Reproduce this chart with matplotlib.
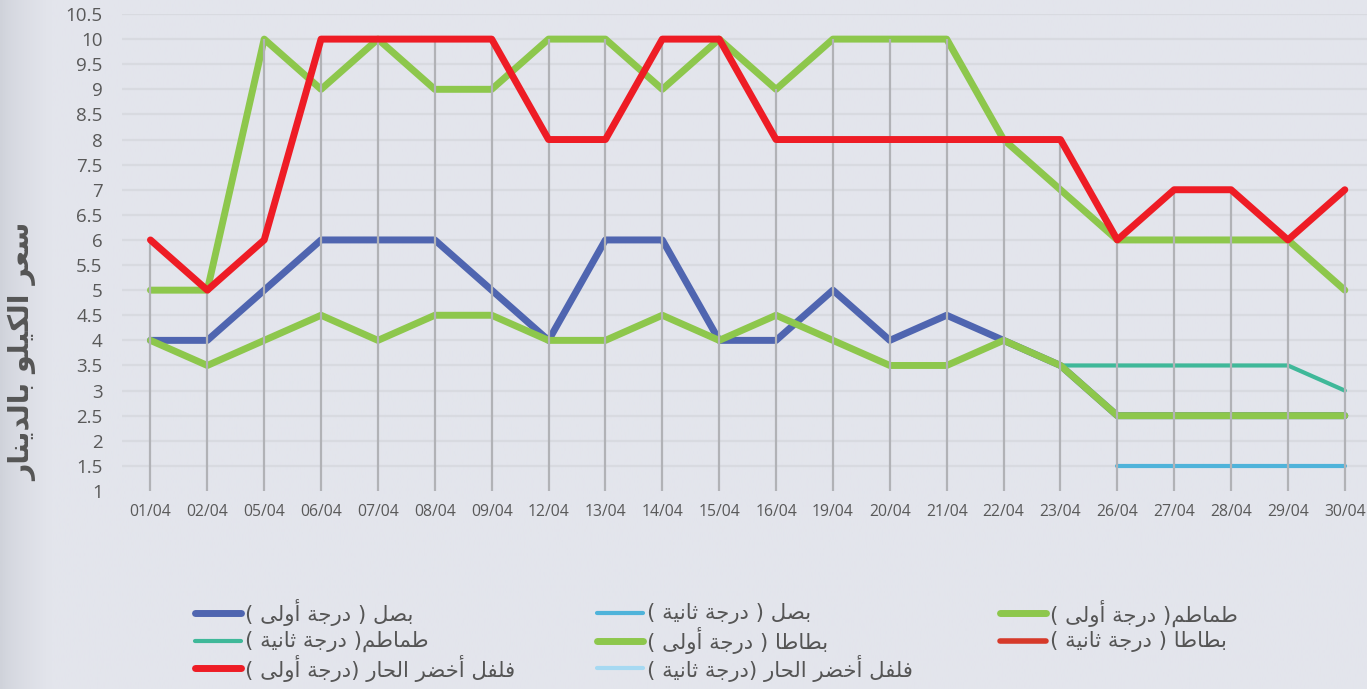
import numpy as np
import matplotlib
matplotlib.use("Agg")
import matplotlib.pyplot as plt
from matplotlib.lines import Line2D
from matplotlib.colors import LinearSegmentedColormap

nan = np.nan
dates = ['01/04', '02/04', '05/04', '06/04', '07/04', '08/04', '09/04', '12/04', '13/04', '14/04',
         '15/04', '16/04', '19/04', '20/04', '21/04', '22/04', '23/04', '26/04', '27/04', '28/04',
         '29/04', '30/04']

onion_1 = [4, 4, 5, 6, 6, 6, 5, 4, 6, 6, 4, 4, 5, 4, 4.5, 4, 3.5, 2.5, 2.5, 2.5, 2.5, 2.5]
onion_2 = [nan] * 17 + [1.5, 1.5, 1.5, 1.5, 1.5]
tomato_1 = [5, 5, 10, 9, 10, 9, 9, 10, 10, 9, 10, 9, 10, 10, 10, 8, 7, 6, 6, 6, 6, 5]
tomato_2 = [nan] * 16 + [3.5, 3.5, 3.5, 3.5, 3.5, 3]
potato_1 = [4, 3.5, 4, 4.5, 4, 4.5, 4.5, 4, 4, 4.5, 4, 4.5, 4, 3.5, 3.5, 4, 3.5, 2.5, 2.5, 2.5, 2.5, 2.5]
potato_2 = [nan] * 22
pepper_1 = [6, 5, 6, 10, 10, 10, 10, 8, 8, 10, 10, 8, 8, 8, 8, 8, 8, 6, 7, 7, 6, 7]
pepper_2 = [nan] * 22

labels = ['بصل ( درجة أولى )', 'بصل ( درجة ثانية )', 'طماطم( درجة أولى )',
          'طماطم( درجة ثانية )', 'بطاطا ( درجة أولى )', 'بطاطا ( درجة ثانية )',
          'فلفل أخضر الحار (درجة أولى )', 'فلفل أخضر الحار (درجة ثانية )']
y_label = 'سعر الكيلو بالدينار'
y_ticks = [1, 1.5, 2, 2.5, 3, 3.5, 4, 4.5, 5, 5.5, 6, 6.5, 7, 7.5, 8, 8.5, 9, 9.5, 10, 10.5]

# ---------- minimal Arabic shaping (presentation forms) + RTL visual order ----------
FORMS = {
    'ا': (0xFE8D, 0xFE8E, None, None), 'أ': (0xFE83, 0xFE84, None, None),
    'ب': (0xFE8F, 0xFE90, 0xFE91, 0xFE92), 'ة': (0xFE93, 0xFE94, None, None),
    'ت': (0xFE95, 0xFE96, 0xFE97, 0xFE98), 'ث': (0xFE99, 0xFE9A, 0xFE9B, 0xFE9C),
    'ج': (0xFE9D, 0xFE9E, 0xFE9F, 0xFEA0), 'ح': (0xFEA1, 0xFEA2, 0xFEA3, 0xFEA4),
    'خ': (0xFEA5, 0xFEA6, 0xFEA7, 0xFEA8), 'د': (0xFEA9, 0xFEAA, None, None),
    'ذ': (0xFEAB, 0xFEAC, None, None), 'ر': (0xFEAD, 0xFEAE, None, None),
    'ز': (0xFEAF, 0xFEB0, None, None), 'س': (0xFEB1, 0xFEB2, 0xFEB3, 0xFEB4),
    'ش': (0xFEB5, 0xFEB6, 0xFEB7, 0xFEB8), 'ص': (0xFEB9, 0xFEBA, 0xFEBB, 0xFEBC),
    'ض': (0xFEBD, 0xFEBE, 0xFEBF, 0xFEC0), 'ط': (0xFEC1, 0xFEC2, 0xFEC3, 0xFEC4),
    'ظ': (0xFEC5, 0xFEC6, 0xFEC7, 0xFEC8), 'ع': (0xFEC9, 0xFECA, 0xFECB, 0xFECC),
    'غ': (0xFECD, 0xFECE, 0xFECF, 0xFED0), 'ف': (0xFED1, 0xFED2, 0xFED3, 0xFED4),
    'ق': (0xFED5, 0xFED6, 0xFED7, 0xFED8), 'ك': (0xFED9, 0xFEDA, 0xFEDB, 0xFEDC),
    'ل': (0xFEDD, 0xFEDE, 0xFEDF, 0xFEE0), 'م': (0xFEE1, 0xFEE2, 0xFEE3, 0xFEE4),
    'ن': (0xFEE5, 0xFEE6, 0xFEE7, 0xFEE8), 'ه': (0xFEE9, 0xFEEA, 0xFEEB, 0xFEEC),
    'و': (0xFEED, 0xFEEE, None, None), 'ى': (0xFEEF, 0xFEF0, None, None),
    'ي': (0xFEF1, 0xFEF2, 0xFEF3, 0xFEF4),
}
LAM_ALEF = {'ا': (0xFEFB, 0xFEFC), 'أ': (0xFEF7, 0xFEF8)}
MIRROR = {'(': ')', ')': '('}


def ar(text):
    out = []
    i = 0
    n = len(text)
    while i < n:
        c = text[i]
        if c not in FORMS:
            out.append(c)
            i += 1
            continue
        prev = text[i - 1] if i > 0 else ''
        joins_prev = prev in FORMS and FORMS[prev][2] is not None
        if c == 'ل' and i + 1 < n and text[i + 1] in LAM_ALEF:
            iso, fin = LAM_ALEF[text[i + 1]]
            out.append(chr(fin if joins_prev else iso))
            i += 2
            continue
        nxt = text[i + 1] if i + 1 < n else ''
        joins_next = FORMS[c][2] is not None and nxt in FORMS
        iso, fin, ini, med = FORMS[c]
        if joins_prev and joins_next:
            g = med
        elif joins_prev:
            g = fin
        elif joins_next:
            g = ini
        else:
            g = iso
        out.append(chr(g))
        i += 1
    return ''.join(MIRROR.get(ch, ch) for ch in reversed(out))


# ---------- figure ----------
W, H = 1367, 689
fig = plt.figure(figsize=(W / 100, H / 100), dpi=100)
bg = '#e3e5ec'
fig.patch.set_facecolor(bg)

# subtle darker shading at the left edge
bax = fig.add_axes([0, 0, 1, 1], zorder=-10)
grad = np.linspace(0, 1, 512).reshape(1, -1)
cmap = LinearSegmentedColormap.from_list('g', ['#cfd2da', bg])
bax.imshow(np.clip(grad * 28, 0, 1) ** 0.7, aspect='auto', cmap=cmap, extent=[0, 1, 0, 1])
bax.set_axis_off()

ax = fig.add_axes([122 / W, (H - 491) / H, 1 - 122 / W, (491 - 14) / H])
ax.set_facecolor('none')
x = np.arange(len(dates))

series = [onion_1, onion_2, tomato_1, tomato_2, potato_1, potato_2, pepper_1, pepper_2]
colors = ['#4f65b0', '#4fb3da', '#8dc74c', '#3fb899', '#8dc74c', '#d63a2a', '#ee1c25', '#a6d9f2']
widths = [5, 3, 5, 3, 5, 4, 5, 3]
zorders = [3, 3, 4, 3, 4, 4, 6, 6]

# grid
for yt in y_ticks[1:]:
    ax.axhline(yt, color='#d8dae0', lw=1.6, zorder=1)

# drop lines
top = np.nanmax(np.array(series, dtype=float), axis=0)
ax.vlines(x, 1, top, color='#b1b2b6', lw=1.6, zorder=5)

for vals, c, lw, z in zip(series, colors, widths, zorders):
    ax.plot(x, vals, color=c, lw=lw, solid_capstyle='round', solid_joinstyle='round', zorder=z)

ax.set_xlim(-0.5, len(dates) - 1 + 0.39)
ax.set_ylim(1, 10.5)
ax.set_yticks(y_ticks)
ax.set_yticklabels(['%g' % v for v in y_ticks])
ax.set_xticks(x)
ax.set_xticklabels(dates)
for s in ax.spines.values():
    s.set_visible(False)
ax.tick_params(axis='y', length=0, pad=14, labelsize=13.5, labelcolor='#595959')
ax.tick_params(axis='x', length=0, pad=9, labelsize=11.3, labelcolor='#595959')
for t in ax.get_yticklabels() + ax.get_xticklabels():
    t.set_family(['Open Sans', 'DejaVu Sans'])

fig.text(23 / W, 1 - 352 / H, ar(y_label), rotation=90, ha='center', va='center',
         fontsize=20.5, fontweight='bold', color='#555555', family=['DejaVu Sans'])

# legend (row-wise order as in the reference)
col_x = [195, 597, 1000]
row_y = [613, 641, 668]
for k, (lab, c, lw) in enumerate(zip(labels, colors, widths)):
    r, cidx = divmod(k, 3)
    x0 = col_x[cidx]
    y0 = row_y[r]
    fig.add_artist(Line2D([x0 / W, (x0 + 46) / W], [1 - y0 / H, 1 - y0 / H],
                          color=c, lw=lw, solid_capstyle='round'))
    fig.text((x0 + 50) / W, 1 - y0 / H, ar(lab), ha='left', va='center', fontsize=15.3,
             color='#555555', family=['DejaVu Sans'])

fig.savefig('out.png', dpi=100, facecolor=fig.get_facecolor())
